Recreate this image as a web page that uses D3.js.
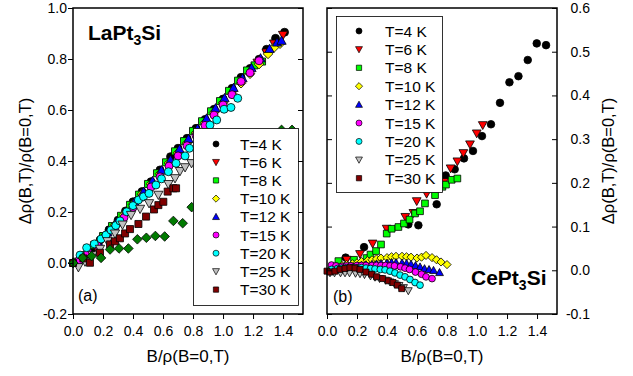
<!DOCTYPE html>
<html><head><meta charset="utf-8">
<script src="https://cdn.jsdelivr.net/npm/d3@7"></script>
<style>
body{margin:0;background:#fff;}
svg{font-family:"Liberation Sans",Arial,sans-serif;}
</style></head>
<body><svg id="c" width="633" height="376"></svg>
<script>
// ---------- DATA ----------
const xTicks = [0.0,0.2,0.4,0.6,0.8,1.0,1.2,1.4];
const yTicksLa = [-0.2,0.0,0.2,0.4,0.6,0.8,1.0];
const yTicksCe = [-0.1,0.0,0.1,0.2,0.3,0.4,0.5,0.6];
const legendLabels = ["T=4 K","T=6 K","T=8 K","T=10 K","T=12 K","T=15 K","T=20 K","T=25 K","T=30 K"];

// LaPt3Si
const la4 = [[0,0],[0.06,0.02],[0.12,0.05],[0.18,0.09],[0.24,0.13],[0.30,0.168],[0.35,0.204],[0.40,0.24],[0.46,0.28],[0.52,0.319],[0.58,0.365],[0.65,0.417],[0.70,0.45],[0.76,0.489],[0.82,0.528],[0.88,0.563],[0.94,0.603],[1.00,0.643],[1.06,0.685],[1.12,0.728],[1.18,0.763],[1.24,0.799],[1.29,0.838],[1.35,0.881],[1.41,0.905]];
const la6 = [[0.03,0.0],[0.09,0.03],[0.15,0.065],[0.21,0.105],[0.27,0.14],[0.33,0.18],[0.39,0.225],[0.45,0.265],[0.51,0.305],[0.57,0.345],[0.63,0.39],[0.69,0.43],[0.75,0.475],[0.81,0.515],[0.87,0.55],[0.93,0.59],[0.99,0.63],[1.05,0.67],[1.11,0.71],[1.17,0.75],[1.23,0.785],[1.29,0.825],[1.34,0.86],[1.40,0.894]];
const la8 = [[0.02,0.005],[0.08,0.03],[0.14,0.07],[0.20,0.105],[0.26,0.145],[0.32,0.185],[0.38,0.228],[0.44,0.268],[0.50,0.31],[0.56,0.352],[0.62,0.395],[0.68,0.438],[0.74,0.478],[0.80,0.518],[0.86,0.556],[0.92,0.595],[0.98,0.635],[1.04,0.675],[1.10,0.715],[1.16,0.755],[1.21,0.775],[1.26,0.79]];
const la10 = [[0.04,0.01],[0.10,0.04],[0.16,0.075],[0.22,0.11],[0.28,0.15],[0.34,0.19],[0.40,0.23],[0.46,0.27],[0.52,0.31],[0.58,0.35],[0.64,0.392],[0.70,0.432],[0.76,0.47],[0.82,0.51],[0.88,0.55],[0.94,0.59],[1.00,0.628],[1.06,0.665],[1.12,0.705],[1.18,0.742],[1.24,0.78],[1.30,0.82],[1.34,0.845],[1.38,0.86]];
const la12 = [[0.05,0.015],[0.11,0.045],[0.17,0.08],[0.23,0.12],[0.29,0.16],[0.35,0.2],[0.41,0.24],[0.47,0.28],[0.53,0.322],[0.59,0.364],[0.65,0.405],[0.71,0.447],[0.77,0.487],[0.83,0.527],[0.89,0.567],[0.95,0.607],[1.01,0.647],[1.07,0.687],[1.13,0.725],[1.19,0.765],[1.25,0.803],[1.31,0.84],[1.36,0.865],[1.39,0.872]];
const la15 = [[0.04,0.01],[0.10,0.04],[0.16,0.07],[0.22,0.105],[0.28,0.14],[0.34,0.178],[0.40,0.218],[0.46,0.258],[0.52,0.298],[0.58,0.338],[0.64,0.38],[0.70,0.42],[0.76,0.46],[0.82,0.5],[0.88,0.54],[0.94,0.58],[1.00,0.62],[1.06,0.66],[1.12,0.712],[1.18,0.746],[1.24,0.793]];
const la20 = [[0.0,0.0],[0.047,0.031],[0.091,0.06],[0.142,0.075],[0.187,0.094],[0.22,0.11],[0.253,0.129],[0.285,0.147],[0.313,0.165],[0.358,0.201],[0.40,0.225],[0.436,0.247],[0.47,0.26],[0.507,0.273],[0.553,0.306],[0.59,0.33],[0.636,0.358],[0.687,0.391],[0.747,0.42],[0.776,0.45],[0.913,0.541],[0.958,0.561],[1.007,0.603],[1.053,0.61],[1.098,0.646]];
const la25 = [[0.036,-0.017],[0.08,0.005],[0.13,0.03],[0.18,0.055],[0.23,0.085],[0.28,0.115],[0.33,0.15],[0.387,0.188],[0.447,0.212],[0.507,0.234],[0.569,0.267],[0.636,0.309],[0.68,0.332],[0.713,0.36],[0.747,0.375],[0.79,0.391]];
const la30 = [[0.0,0.0],[0.069,0.018],[0.113,0.001],[0.18,0.04],[0.247,0.073],[0.28,0.085],[0.313,0.097],[0.347,0.116],[0.38,0.133],[0.436,0.153],[0.487,0.182],[0.54,0.21],[0.569,0.227],[0.602,0.24],[0.631,0.28],[0.669,0.293],[0.687,0.293]];
const laExtra = [[0.002,0.0],[0.064,0.02],[0.124,0.027],[0.187,0.02],[0.247,0.053],[0.307,0.057],[0.369,0.057],[0.429,0.093],[0.489,0.099],[0.549,0.106],[0.611,0.104],[0.669,0.165],[0.731,0.156],[0.791,0.219],[1.39,0.522],[1.46,0.522]];

// CePt3Si
const ce4 = [[0.124,0.029],[0.247,0.053],[0.542,0.105],[0.609,0.103],[0.731,0.151],[0.791,0.217],[0.851,0.231],[0.913,0.256],[0.973,0.273],[1.033,0.307],[1.093,0.334],[1.153,0.383],[1.216,0.43],[1.276,0.444],[1.338,0.481],[1.398,0.519],[1.46,0.515]];
const ce6 = [[0.131,0.024],[0.22,0.037],[0.304,0.061],[0.398,0.095],[0.522,0.122],[0.576,0.131],[0.598,0.158],[0.664,0.175],[0.78,0.202],[0.824,0.233],[0.869,0.249],[0.909,0.268],[0.953,0.288],[0.998,0.313],[1.038,0.332]];
const ce8 = [[0.076,0.021],[0.18,0.024],[0.264,0.028],[0.29,0.036],[0.327,0.044],[0.36,0.059],[0.398,0.084],[0.431,0.095],[0.476,0.099],[0.513,0.107],[0.55,0.116],[0.587,0.13],[0.62,0.135],[0.653,0.153],[0.72,0.172],[0.769,0.191],[0.793,0.196],[0.831,0.207],[0.869,0.21]];
const ce10 = [[0.03,0.004],[0.07,0.008],[0.10,0.011],[0.13,0.013],[0.17,0.015],[0.20,0.017],[0.23,0.02],[0.27,0.022],[0.30,0.024],[0.33,0.026],[0.36,0.028],[0.40,0.029],[0.43,0.031],[0.46,0.032],[0.50,0.032],[0.53,0.031],[0.56,0.03],[0.60,0.028],[0.63,0.03],[0.66,0.034],[0.70,0.029],[0.73,0.024],[0.76,0.019],[0.80,0.013]];
const ce12 = [[0.03,0.0],[0.06,0.003],[0.10,0.005],[0.13,0.007],[0.16,0.009],[0.20,0.01],[0.23,0.012],[0.26,0.013],[0.30,0.014],[0.33,0.015],[0.36,0.016],[0.40,0.017],[0.43,0.018],[0.46,0.018],[0.50,0.017],[0.53,0.016],[0.56,0.014],[0.59,0.011],[0.62,0.008],[0.65,0.004],[0.68,0.002],[0.71,0.0],[0.75,-0.005]];
const ce15 = [[0.03,0.012],[0.06,0.01],[0.10,0.009],[0.13,0.01],[0.16,0.01],[0.20,0.011],[0.23,0.011],[0.26,0.011],[0.30,0.011],[0.33,0.011],[0.36,0.011],[0.39,0.011],[0.42,0.01],[0.45,0.01],[0.49,0.008],[0.52,0.005],[0.55,0.002],[0.59,-0.004],[0.63,-0.009],[0.66,-0.015],[0.70,-0.019]];
const ce20 = [[0.03,0.002],[0.07,0.004],[0.10,0.005],[0.13,0.006],[0.17,0.006],[0.20,0.006],[0.23,0.006],[0.26,0.005],[0.29,0.004],[0.32,0.003],[0.355,0.002],[0.387,0.001],[0.42,-0.002],[0.453,-0.006],[0.487,-0.011],[0.52,-0.015],[0.553,-0.021],[0.587,-0.028],[0.62,-0.034]];
const ce25 = [[0.02,-0.006],[0.05,-0.006],[0.09,-0.006],[0.12,-0.006],[0.15,-0.006],[0.19,-0.007],[0.22,-0.008],[0.25,-0.01],[0.29,-0.013],[0.32,-0.016],[0.35,-0.019],[0.39,-0.023],[0.42,-0.027],[0.45,-0.031],[0.48,-0.035],[0.51,-0.04],[0.542,-0.047]];
const ce30 = [[0.0,-0.002],[0.02,-0.004],[0.053,-0.002],[0.087,0.002],[0.12,0.004],[0.153,0.006],[0.187,0.005],[0.22,0.002],[0.26,-0.004],[0.298,-0.009],[0.331,-0.015],[0.371,-0.019],[0.409,-0.024],[0.44,-0.028],[0.469,-0.034],[0.498,-0.042]];

// ---------- STYLES ----------
const styles = [
  {shape:"circle", fill:"#000000"},
  {shape:"triDown", fill:"#ff0000"},
  {shape:"square", fill:"#00ff00"},
  {shape:"diamond", fill:"#ffff00"},
  {shape:"triUp", fill:"#0000ff"},
  {shape:"circle", fill:"#ff00ff"},
  {shape:"circle", fill:"#00ffff"},
  {shape:"triDown", fill:"#c0c0c0"},
  {shape:"square", fill:"#800000"}
];
const extraStyle = {shape:"diamond", fill:"#007a00"};

function shapePath(shape, r){
  if(shape==="circle") return `M${r},0A${r},${r} 0 1,1 ${-r},0A${r},${r} 0 1,1 ${r},0Z`;
  if(shape==="square"){const s=r*0.88;return `M${-s},${-s}H${s}V${s}H${-s}Z`;}
  if(shape==="diamond"){const d=r*1.2;return `M0,${-d}L${d},0L0,${d}L${-d},0Z`;}
  if(shape==="triUp"){const h=r*1.15;return `M0,${-h}L${h},${h*0.8}L${-h},${h*0.8}Z`;}
  if(shape==="triDown"){const h=r*1.15;return `M0,${h}L${h},${-h*0.8}L${-h},${-h*0.8}Z`;}
}

const svg = d3.select("#c");
const fmt = d => d.toFixed(1);

// ---------- SCALES ----------
const xLa = d3.scaleLinear().domain([0,1.533]).range([73,303]);
const yLa = d3.scaleLinear().domain([-0.2,1.0]).range([314,8]);
const xCe = d3.scaleLinear().domain([0,1.533]).range([327,557]);
const yCe = d3.scaleLinear().domain([-0.1,0.6]).range([314,8]);

function drawSeries(g, data, st, xs, ys, r){
  g.append("g").selectAll("path").data(data).join("path")
    .attr("transform", d=>`translate(${xs(d[0])},${ys(d[1])})`)
    .attr("d", shapePath(st.shape, r))
    .attr("fill", st.fill)
    .attr("stroke", "#000").attr("stroke-width", 0.8);
}

// ---------- LEFT PANEL ----------
const gL = svg.append("g");
const laSeries = [la4,la6,la8,la10,la12,la15,la20,la25,la30];
laSeries.forEach((s,i)=>drawSeries(gL, s, styles[i], xLa, yLa, 4));
drawSeries(gL, laExtra, extraStyle, xLa, yLa, 4);

// ---------- RIGHT PANEL ----------
const gR = svg.append("g");
const ceSeries = [ce4,ce6,ce8,ce10,ce12,ce15,ce20,ce25,ce30];
ceSeries.forEach((s,i)=>drawSeries(gR, s, styles[i], xCe, yCe, i<3?3.8:3.4));

// ---------- LEGENDS ----------
function legend(x0,y0,w,h,sx,tx,ty0,dy){
  const g = svg.append("g");
  g.append("rect").attr("x",x0).attr("y",y0).attr("width",w).attr("height",h)
    .attr("fill","#fff").attr("stroke","#000").attr("stroke-width",0.8);
  legendLabels.forEach((lab,i)=>{
    const y = ty0 + i*dy;
    g.append("path").attr("transform",`translate(${sx},${y})`)
      .attr("d", shapePath(styles[i].shape, 3)).attr("fill", styles[i].fill)
      .attr("stroke","#000").attr("stroke-width",0.7);
    g.append("text").attr("x",tx).attr("y",y).attr("dy","0.36em")
      .attr("font-size","15.5px").text(lab);
  });
}
legend(193.5,128.5,105,177,216,240,144,18.2);
legend(336.5,16.5,106,176,359,385,31,18.4);

// ---------- AXES ----------
function frame(x0,x1,y0,y1){
  svg.append("rect").attr("x",x0).attr("y",y0).attr("width",x1-x0).attr("height",y1-y0)
    .attr("fill","none").attr("stroke","#000").attr("stroke-width",1.5);
}
function styleAxis(g){
  g.select(".domain").remove();
  g.selectAll("line").attr("stroke","#000").attr("stroke-width",1);
  g.selectAll("text").attr("font-size","14px").attr("fill","#000").attr("font-family","Liberation Sans, Arial, sans-serif");
}
// left panel
styleAxis(svg.append("g").attr("transform","translate(73,0)")
  .call(d3.axisLeft(yLa).tickValues(yTicksLa).tickFormat(fmt).tickSize(5).tickPadding(1)));
styleAxis(svg.append("g").attr("transform","translate(303,0)")
  .call(d3.axisLeft(yLa).tickValues(yTicksLa).tickFormat("").tickSize(-5)).call(g=>g.selectAll("line").attr("x2",-5)));
styleAxis(svg.append("g").attr("transform","translate(0,314)")
  .call(d3.axisBottom(xLa).tickValues(xTicks).tickFormat(fmt).tickSize(5).tickPadding(7)));
frame(73,303,8,314);
// right panel
styleAxis(svg.append("g").attr("transform","translate(327,0)")
  .call(d3.axisRight(yCe).tickValues(yTicksCe).tickFormat("").tickSize(5)));
styleAxis(svg.append("g").attr("transform","translate(557,0)")
  .call(d3.axisLeft(yCe).tickValues(yTicksCe).tickFormat("").tickSize(5)));
styleAxis(svg.append("g").attr("transform","translate(592,0)")
  .call(d3.axisLeft(yCe).tickValues(yTicksCe).tickFormat(fmt).tickSize(0).tickPadding(2)));
styleAxis(svg.append("g").attr("transform","translate(0,314)")
  .call(d3.axisBottom(xCe).tickValues(xTicks).tickFormat(fmt).tickSize(5).tickPadding(7)));
frame(327,557,8,314);

// ---------- TEXT ----------
function compound(x,y,a,sub,b){
  const t = svg.append("text").attr("x",x).attr("y",y).attr("font-size","21px").attr("font-weight","bold");
  t.append("tspan").text(a);
  t.append("tspan").attr("font-size","14px").attr("dy",5).text(sub);
  t.append("tspan").attr("dy",-5).text(b);
}
compound(88,40,"LaPt","3","Si");
compound(471,285,"CePt","3","Si");
svg.append("text").attr("x",78).attr("y",301).attr("font-size","16px").text("(a)");
svg.append("text").attr("x",333).attr("y",302).attr("font-size","16px").text("(b)");
svg.append("text").attr("x",188).attr("y",362).attr("text-anchor","middle").attr("font-size","17px").text("B/ρ(B=0,T)");
svg.append("text").attr("x",442).attr("y",362).attr("text-anchor","middle").attr("font-size","17px").text("B/ρ(B=0,T)");
svg.append("text").attr("transform","translate(31,161) rotate(-90)").attr("text-anchor","middle").attr("font-size","16.5px").text("Δρ(B,T)/ρ(B=0,T)");
svg.append("text").attr("transform","translate(614,161) rotate(-90)").attr("text-anchor","middle").attr("font-size","16.5px").text("Δρ(B,T)/ρ(B=0,T)");
</script></body></html>
